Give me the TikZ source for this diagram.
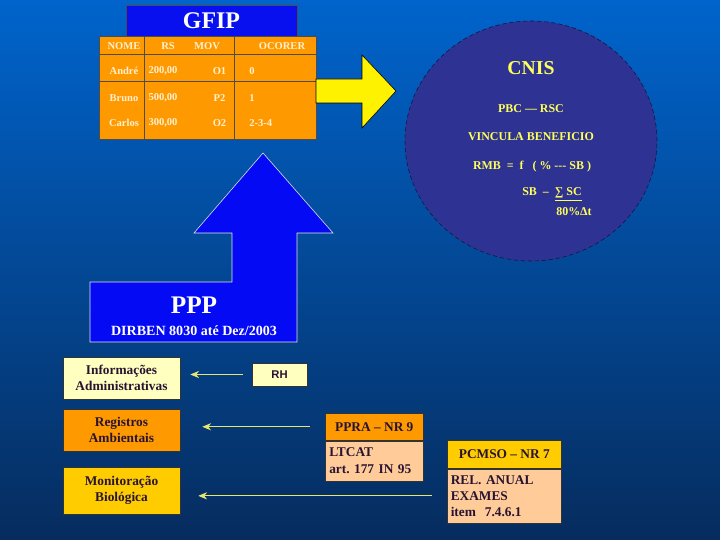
\documentclass[tikz,border=0pt]{standalone}
\usepackage{fontspec}
\setmainfont{Liberation Serif}
\newfontfamily\rhfont{Liberation Sans}
\usetikzlibrary{positioning, arrows.meta, calc}
\frenchspacing

\definecolor{bgtop}{RGB}{0,100,204}
\definecolor{bgbot}{RGB}{6,44,94}
\definecolor{gfipblue}{RGB}{8,16,240}
\definecolor{taborange}{RGB}{255,153,0}
\definecolor{tabtext}{RGB}{255,240,208}
\definecolor{cnisfill}{RGB}{46,50,146}
\definecolor{cnisyellow}{RGB}{255,255,90}
\definecolor{pppblue}{RGB}{5,10,245}
\definecolor{lightyel}{RGB}{255,255,192}
\definecolor{boxgold}{RGB}{255,204,0}
\definecolor{peach}{RGB}{255,204,153}
\definecolor{darktxt}{RGB}{40,20,50}
\definecolor{arrowyel}{RGB}{230,230,110}

\begin{document}
\begin{tikzpicture}[
  font=\bfseries,
  tcell/.style={text=tabtext, font=\fontsize{7.5}{9}\selectfont\bfseries, inner sep=0pt},
  cntext/.style={text=cnisyellow, font=\fontsize{8.5}{10}\selectfont\bfseries, inner sep=0pt},
  infobox/.style={rectangle, draw=black!80, thin, minimum width=2.925cm, align=center,
                  text=darktxt, font=\fontsize{9.5}{11.5}\selectfont\bfseries},
  hdbox/.style={rectangle, draw=black!80, thin, anchor=north west, inner sep=0pt,
                text=darktxt, font=\fontsize{9.5}{11}\selectfont\bfseries},
  bodybox/.style={rectangle, draw=black!80, thin, fill=peach, align=left, inner ysep=0pt,
                  text=darktxt, font=\fontsize{9.5}{12}\selectfont\bfseries},
  arr/.style={-{Stealth[length=2.2mm, width=1.8mm]}, arrowyel, semithick},
]

%% BACKGROUND
\shade[top color=bgtop, bottom color=bgbot] (0,0) rectangle (18,13.5);
\useasboundingbox (0,0) rectangle (18,13.5);

%% GFIP TABLE
\node[rectangle, draw=black!70, fill=gfipblue, minimum width=4.275cm, minimum height=0.775cm,
      text=white, font=\fontsize{17}{19}\selectfont\bfseries] (gfip) at (5.2875,12.9875) {GFIP};

\draw[fill=taborange, draw=black!70] (2.475,10.025) rectangle (7.9,12.6);
\draw[black!70] (3.6125,10.025) -- (3.6125,12.6);
\draw[black!70] (5.85,10.025) -- (5.85,12.6);
\draw[black!70] (2.475,12.15) -- (7.9,12.15);
\draw[black!70] (2.475,11.475) -- (7.9,11.475);

\node[tcell] (hnome) at (3.1,12.35)   {NOME};
\node[tcell] (hrs)   at (4.2,12.35)   {RS};
\node[tcell] (hmov)  at (5.175,12.35) {MOV};
\node[tcell] (hoc)   at (7.05,12.35)  {OCORER};

\node[tcell] (nandre)  at (3.1,11.725)  {André};
\node[tcell] (nbruno)  at (3.1,11.05)   {Bruno};
\node[tcell] (ncarlos) at (3.1,10.425)  {Carlos};
\node[tcell] (rs1) at (4.075,11.725) {200,00};
\node[tcell] (rs2) at (4.075,11.05)  {500,00};
\node[tcell] (rs3) at (4.075,10.425) {300,00};
\node[tcell] (mv1) at (5.4875,11.725) {O1};
\node[tcell] (mv2) at (5.4875,11.05)  {P2};
\node[tcell] (mv3) at (5.4875,10.425) {O2};
\node[tcell, anchor=west] (oc1) at (6.225,11.725) {0};
\node[tcell, anchor=west] (oc2) at (6.225,11.05)  {1};
\node[tcell, anchor=west] (oc3) at (6.225,10.425) {2-3-4};

%% YELLOW ARROW
\draw[black, thin, fill=yellow] (7.9,11.525) -- (9.05,11.525) -- (9.05,12.125) -- (9.9,11.225)
  -- (9.05,10.3) -- (9.05,10.925) -- (7.9,10.925) -- cycle;

%% CNIS
\draw[densely dashed, draw={rgb,255:red,20;green,20;blue,60}, thin, fill=cnisfill]
  (13.275,9.975) ellipse [x radius=3.15cm, y radius=3cm];

\node[cntext, font=\fontsize{14}{16}\selectfont\bfseries] (cnis) at (13.275,11.8) {CNIS};
\node[cntext] (pbc)  at (13.275,10.775) {PBC — RSC};
\node[cntext] (vinc) at (13.275,10.075) {VINCULA BENEFICIO};
\node[cntext] (rmb)  at (13.3,9.325) {RMB \ = \ f \ \ ( \% -{}-{}- SB )};
\node[cntext] (sb)   at (13.8,8.65) {SB \ – \ \underline{∑ SC}};
\node[cntext] (dt)   at (14.35,8.2) {80\%Δt};

%% PPP ARROW
\draw[white!80!gray, thin, fill=pppblue] (2.25,6.45) -- (5.8,6.45) -- (5.8,7.675) -- (4.85,7.675)
  -- (6.575,9.675) -- (8.325,7.675) -- (7.425,7.675) -- (7.425,4.95) -- (2.25,4.95) -- cycle;

\node[text=white, font=\fontsize{18}{20}\selectfont\bfseries] (ppp) at (4.85,5.875) {PPP};
\node[text=white, font=\fontsize{10}{12}\selectfont\bfseries] (dirben) at (4.85,5.225)
  {DIRBEN 8030 até Dez/2003};

%% LEFT BOXES
\node[infobox, fill=lightyel, minimum height=1.05cm] (info) at (3.0375,4.05)
  {Informações\\Administrativas};
\node[infobox, fill=taborange, minimum height=1.05cm] (reg) at (3.0375,2.75)
  {Registros\\Ambientais};
\node[infobox, fill=boxgold, minimum height=1.175cm] (mon) at (3.0375,1.2375)
  {Monitoração\\Biológica};

%% SOURCES
\node[rectangle, draw=black!80, thin, fill=lightyel, minimum width=1.375cm, minimum height=0.575cm,
      text=darktxt, font=\rhfont\fontsize{8}{9}\selectfont\bfseries] (rh) at (6.9875,4.1375) {RH};

\node[hdbox, fill=taborange, minimum width=2.45cm, minimum height=0.675cm] (ppra)
  at (8.125,3.175) {PPRA – NR 9};
\node[bodybox, text width=2.25cm, inner xsep=0.1cm, minimum height=1cm, below=0pt of ppra] (ltcat)
  {LTCAT\\art. 177 IN 95};

\node[hdbox, fill=boxgold, minimum width=2.85cm, minimum height=0.7cm] (pcmso)
  at (11.175,2.5) {PCMSO – NR 7};
\node[bodybox, text width=2.675cm, inner xsep=0.0875cm, minimum height=1.35cm,
      font=\fontsize{9.5}{11.4}\selectfont\bfseries, below=0pt of pcmso] (relan)
  {REL. ANUAL\\EXAMES\\item \ 7.4.6.1};

%% CONNECTORS
\draw[arr, shorten <=0.225cm, shorten >=0.25cm] (rh.west) -- (info.east |- rh.west);
\draw[arr, shorten <=0.375cm, shorten >=0.55cm] (ppra.west) -- (reg.east |- ppra.west);
\draw[arr, shorten <=0.375cm, shorten >=0.45cm] (relan.west) -- (mon.east |- relan.west);

\end{tikzpicture}
\end{document}
